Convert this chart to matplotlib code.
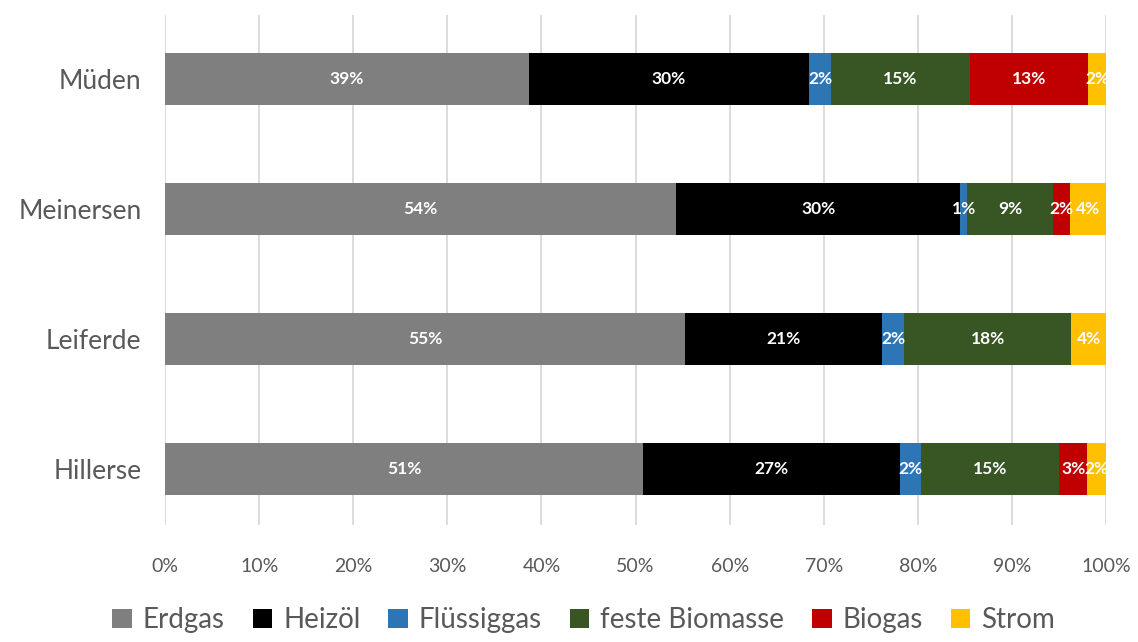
import matplotlib.pyplot as plt
import numpy as np

plt.rcParams['font.family'] = ['Lato', 'DejaVu Sans']

orte = ["Hillerse", "Leiferde", "Meinersen", "Müden"]
erdgas = [50.8, 55.3, 54.3, 38.7]
heizoel = [27.3, 20.9, 30.2, 29.7]
fluessiggas = [2.2, 2.3, 0.7, 2.4]
biomasse = [14.7, 17.8, 9.2, 14.7]
biogas = [3.0, 0.0, 1.8, 12.6]
strom = [2.0, 3.7, 3.8, 1.9]

reihen = [
    ("Erdgas", erdgas, "#7f7f7f"),
    ("Heizöl", heizoel, "#000000"),
    ("Flüssiggas", fluessiggas, "#2e75b6"),
    ("feste Biomasse", biomasse, "#375623"),
    ("Biogas", biogas, "#c00000"),
    ("Strom", strom, "#ffc000"),
]

fig = plt.figure(figsize=(11.38, 6.42), dpi=100)
ax = fig.add_axes([0.145, 0.182, 0.827, 0.795])

y = np.arange(len(orte))
links = np.zeros(len(orte))
for name, werte, farbe in reihen:
    werte = np.array(werte)
    ax.barh(y, werte, left=links, height=0.4, color=farbe, label=name, zorder=3)
    for yi, l, w in zip(y, links, werte):
        if w > 0:
            ax.text(l + w / 2, yi, f"{round(w):.0f}%", ha="center", va="center",
                    color="white", fontsize=12.5, fontweight="bold", zorder=4)
    links = links + werte

ax.set_xlim(0, 100)
ax.set_ylim(-0.43, 3.49)
ax.set_xticks(np.arange(0, 101, 10))
ax.set_xticklabels([f"{v}%" for v in range(0, 101, 10)], fontsize=14, color="#595959")
ax.set_yticks(y)
ax.set_yticklabels(orte, fontsize=19, color="#595959")
ax.tick_params(length=0)
ax.tick_params(axis="x", pad=24)
ax.tick_params(axis="y", pad=17)
ax.grid(axis="x", color="#d9d9d9", linewidth=1.3, zorder=0)
for s in ax.spines.values():
    s.set_visible(False)

leg = fig.legend(loc="lower center", bbox_to_anchor=(0.513, -0.025), ncol=6, frameon=False,
                 fontsize=20, handlelength=0.7, handleheight=0.7, handletextpad=0.4,
                 columnspacing=1.0)
for t in leg.get_texts():
    t.set_color("#595959")

fig.savefig("out.png", dpi=100)
